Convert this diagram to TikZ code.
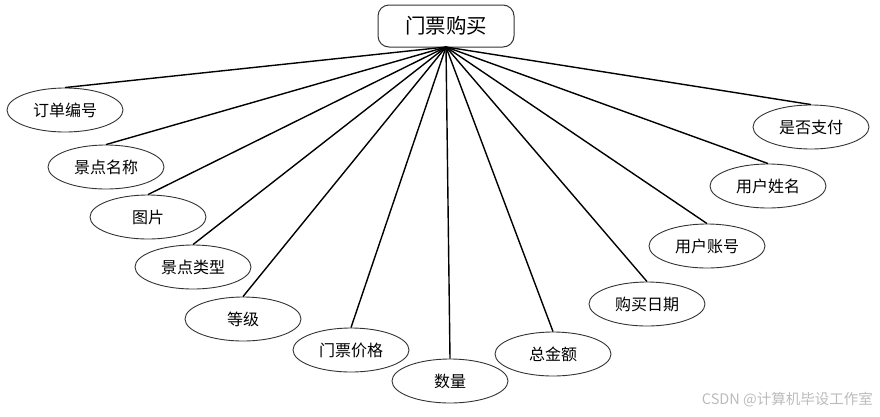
\documentclass[tikz,border=0pt]{standalone}
\usepackage{fontspec}
\newfontfamily\cjk{Noto Sans CJK SC}
\usetikzlibrary{shapes.geometric}
\definecolor{edgec}{HTML}{333333}
\definecolor{wm}{HTML}{BBBBBB}
\begin{document}
\begin{tikzpicture}[x=1pt,y=-1pt,
  attr/.style={ellipse,draw=edgec,line width=0.9pt,minimum width=116pt,minimum height=44pt,inner sep=0pt,font=\cjk\fontsize{16}{18}\selectfont},
  entity/.style={rectangle,rounded corners=11pt,draw=edgec,line width=1pt,minimum width=136pt,minimum height=42pt,inner sep=0pt,font=\cjk\fontsize{20.5}{23}\selectfont},
  link/.style={line width=1.4pt,black}]
\useasboundingbox (0,0) rectangle (880,416);
\node[entity] (e) at (446,26) {门票购买};
\coordinate (hub) at (446,47);
\node[attr] (a1) at (65,110) {订单编号};
\node[attr] (a2) at (106,167) {景点名称};
\node[attr] (a3) at (148,217) {图片};
\node[attr] (a4) at (193,267) {景点类型};
\node[attr] (a5) at (243,319) {等级};
\node[attr] (a6) at (351,350) {门票价格};
\node[attr] (a7) at (450,381) {数量};
\node[attr] (a8) at (553,354) {总金额};
\node[attr] (a9) at (647,304) {购买日期};
\node[attr] (a10) at (707,246) {用户账号};
\node[attr] (a11) at (768,186) {用户姓名};
\node[attr] (a12) at (811,127) {是否支付};
\foreach \i in {1,...,12}{\draw[link] (hub) -- (a\i.north);}
\node[anchor=east,text=wm,font=\cjk\fontsize{14.5}{16}\selectfont,inner sep=0pt] (wmk) at (873,400) {CSDN @计算机毕设工作室};
\end{tikzpicture}
\end{document}
